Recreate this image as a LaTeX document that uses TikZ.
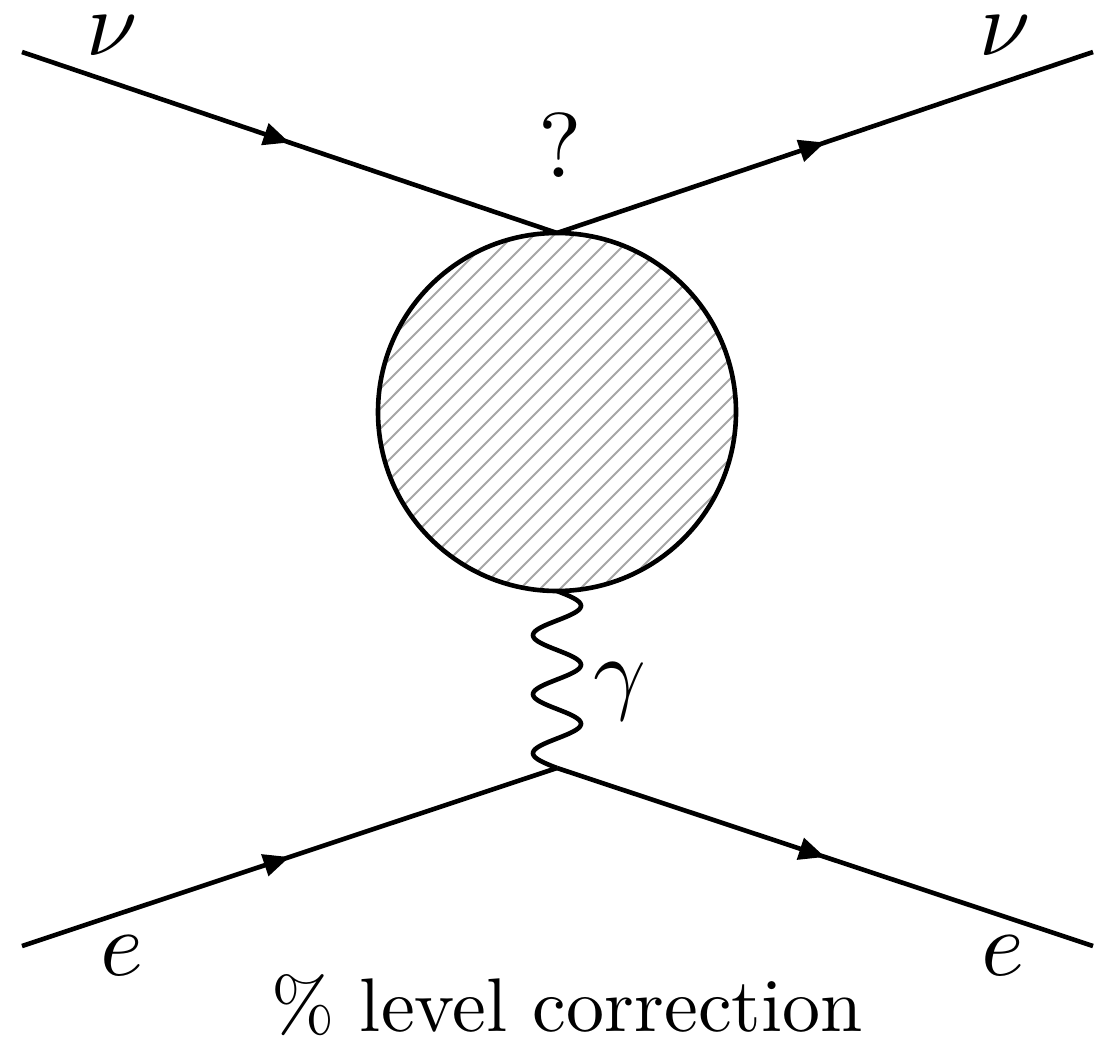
\documentclass[tikz,border=0pt]{standalone}
\usetikzlibrary{decorations.markings,arrows.meta}
\tikzset{
  fermion/.style={line width=2.3pt,
    postaction={decorate},
    decoration={markings, mark=at position 0.5 with {\arrow{Triangle[length=13pt,width=11pt]}}}},
  photon/.style={line width=2.3pt, line join=round},
  blobstyle/.style={circle, draw, line width=2.3pt, minimum size=179pt, inner sep=0pt},
  hatch/.style={line width=1pt, gray!70},
  lbl/.style={inner sep=0pt},
  captxt/.style={inner sep=0pt, anchor=base}
}
\begin{document}
\begin{tikzpicture}[x=0.5pt,y=-0.5pt]
\useasboundingbox (0,0) rectangle (1113,1038);
\coordinate (nuin) at (22,52);
\coordinate (v1) at (557,233);
\coordinate (nuout) at (1093,52);
\coordinate (ein) at (22,946);
\coordinate (v2) at (557,768);
\coordinate (eout) at (1093,946);
% hatching
\begin{scope}
  \clip (557,412) circle[radius=89.5pt];
  \foreach \k in {-400,-380,...,400}{
    \draw[hatch] (357,612+\k) -- (757,212+\k);
  }
\end{scope}
\node[blobstyle] (blob) at (557,412) {};
\draw[fermion] (nuin) -- (v1);
\draw[fermion] (v1) -- (nuout);
\draw[fermion] (ein) -- (v2);
\draw[fermion] (v2) -- (eout);
% photon from blob.south to v2
\draw[photon] plot[domain=0:1080, samples=145, smooth] ({557+24*sin(\x)}, {591+0.163889*\x});
\node[lbl] (nu1) at (112,36) {\scalebox{4.6}{$\nu$}};
\node[lbl] (nu2) at (1005,36) {\scalebox{4.6}{$\nu$}};
\node[lbl] (q) at (560,145) {\scalebox{4.6}{?}};
\node[lbl] (g) at (620,692) {\scalebox{4.6}{$\gamma$}};
\node[lbl] (e1) at (122,956) {\scalebox{4.6}{$e$}};
\node[lbl] (e2) at (1003,956) {\scalebox{4.6}{$e$}};
\node[captxt] (txt) at (567,1031) {\scalebox{3.8}{\% level correction}};
\end{tikzpicture}
\end{document}
